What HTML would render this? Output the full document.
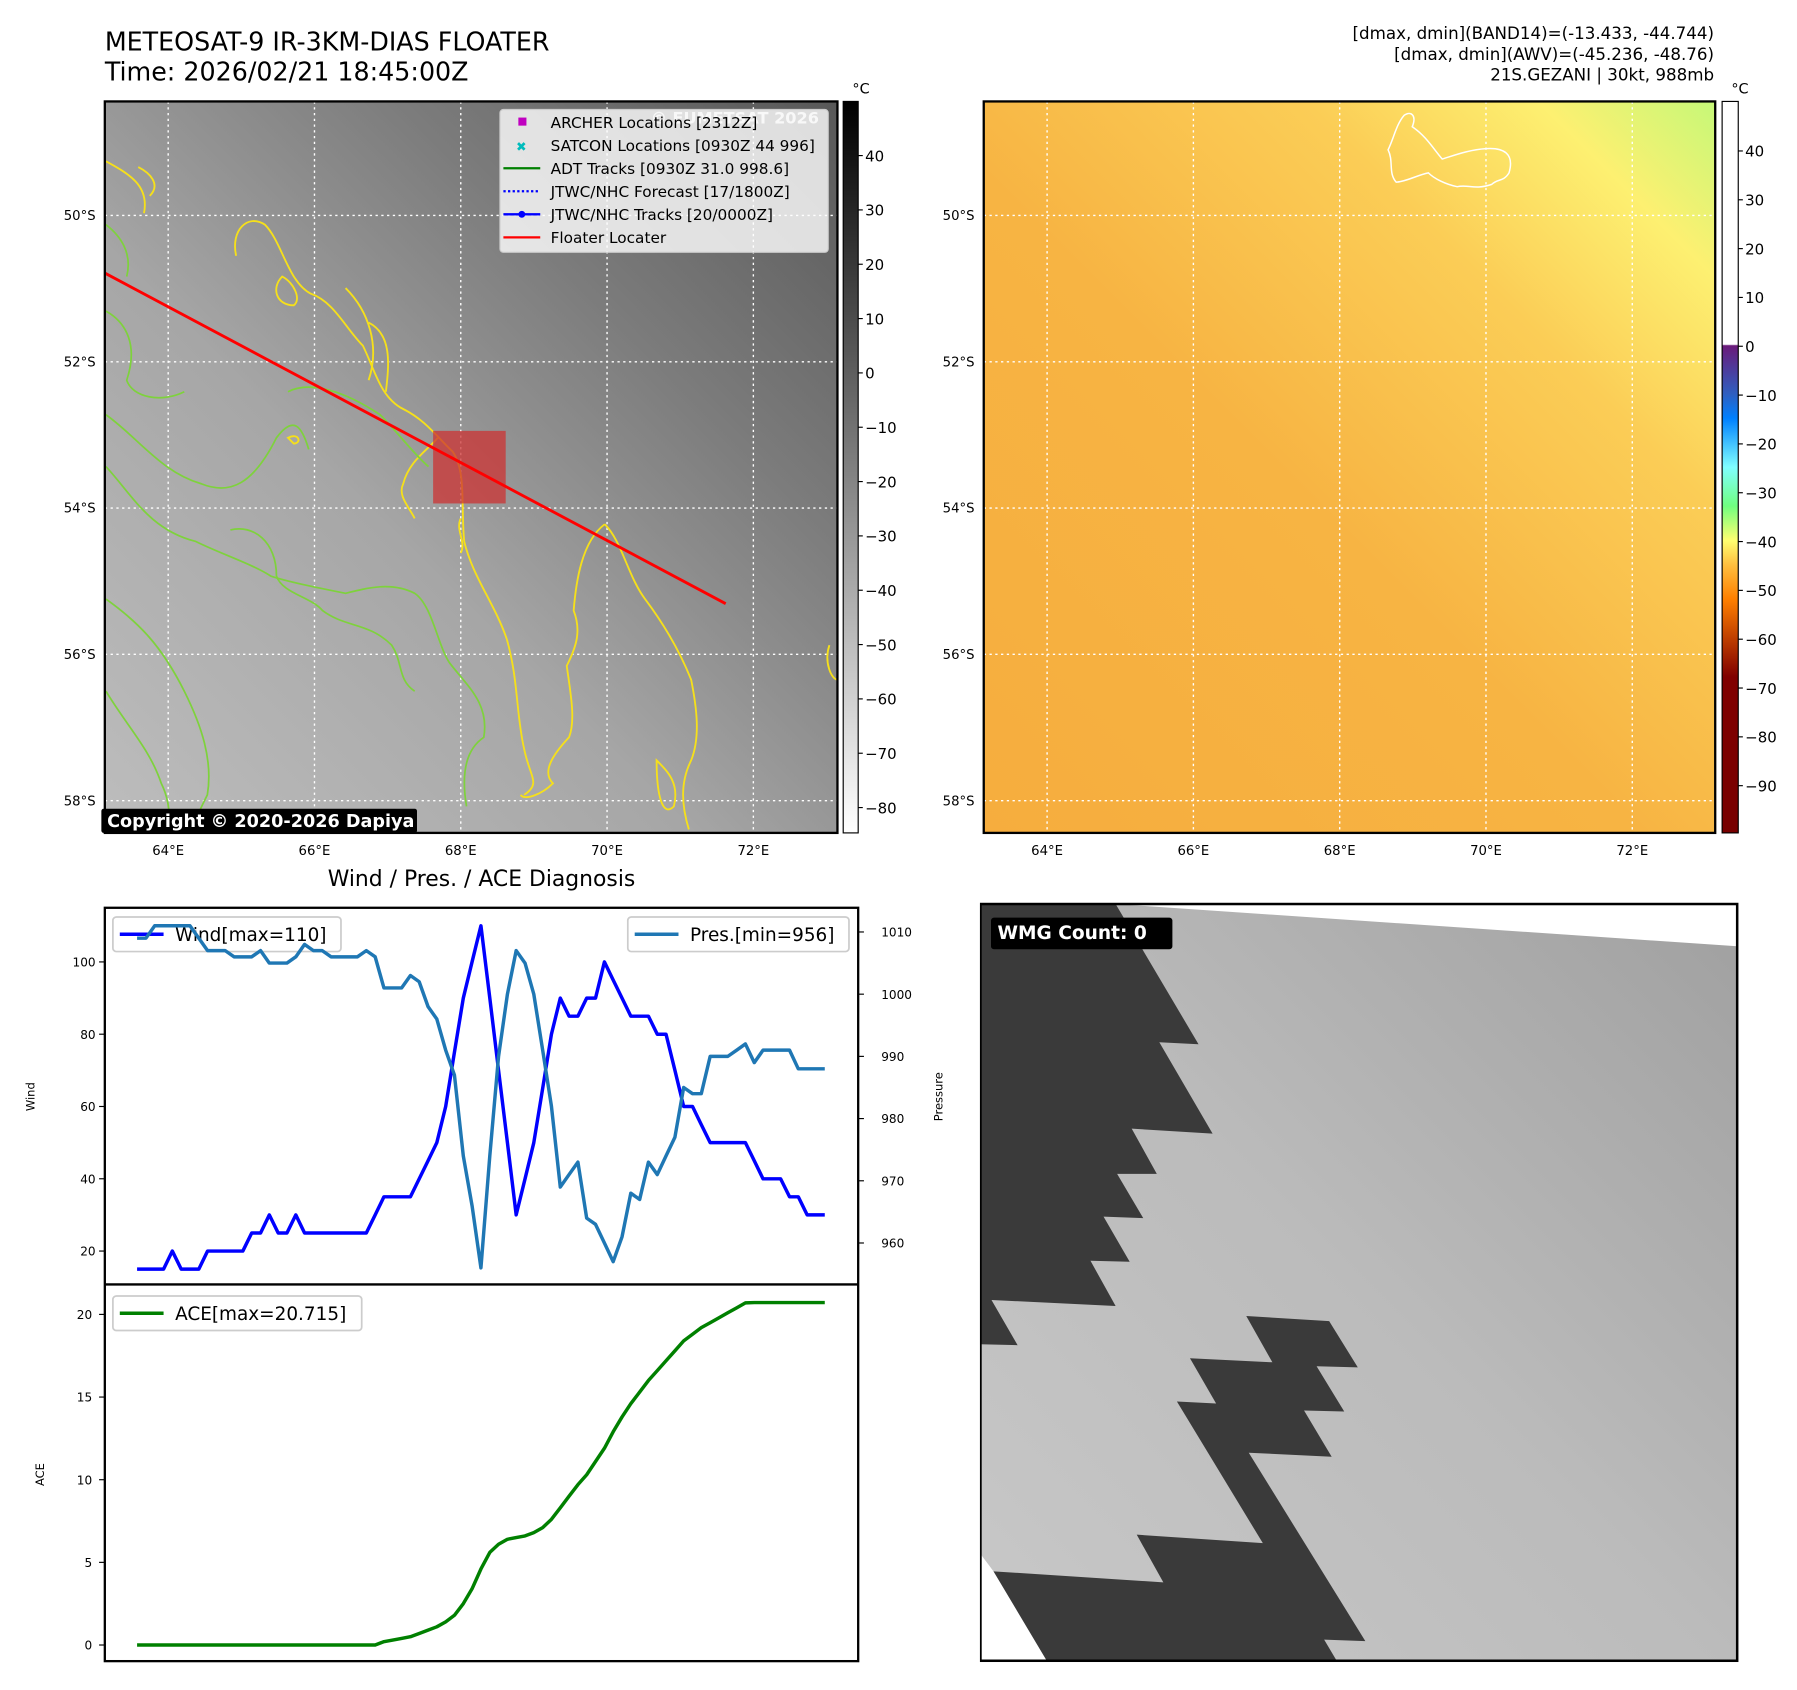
<!DOCTYPE html>
<html><head><meta charset="utf-8"><style>
html,body{margin:0;padding:0;background:#fff;}
svg{display:block;font-family:"DejaVu Sans","Liberation Sans",sans-serif;}
</style></head><body>
<svg id="root" width="1797" height="1690" viewBox="0 0 1560 1467" xmlns="http://www.w3.org/2000/svg">
<defs>
<linearGradient id="gIR" x1="0" y1="1" x2="1" y2="0">
<stop offset="0" stop-color="#bdbdbd"/><stop offset="0.4" stop-color="#a6a6a6"/><stop offset="0.7" stop-color="#7c7c7c"/><stop offset="1" stop-color="#585858"/></linearGradient>
<linearGradient id="gAWV" x1="0" y1="1" x2="1" y2="0">
<stop offset="0" stop-color="#f6ad3e"/><stop offset="0.45" stop-color="#f7b443"/><stop offset="0.72" stop-color="#fbcd56"/><stop offset="0.88" stop-color="#fdf071"/><stop offset="1" stop-color="#c6f878"/></linearGradient>
<linearGradient id="cbGray" x1="0" y1="0" x2="0" y2="1"><stop offset="0" stop-color="#000"/><stop offset="1" stop-color="#fff"/></linearGradient>
<linearGradient id="cbJet" x1="0" y1="0" x2="0" y2="1">
<stop offset="0" stop-color="#fff"/><stop offset="0.332" stop-color="#fff"/><stop offset="0.334" stop-color="#6a1a7a"/>
<stop offset="0.40" stop-color="#2f5fc0"/><stop offset="0.433" stop-color="#0080ff"/><stop offset="0.50" stop-color="#80ffff"/>
<stop offset="0.553" stop-color="#70ff80"/><stop offset="0.60" stop-color="#ffff70"/><stop offset="0.633" stop-color="#ffc040"/>
<stop offset="0.68" stop-color="#ff8000"/><stop offset="0.733" stop-color="#c04000"/><stop offset="0.787" stop-color="#800000"/><stop offset="1" stop-color="#780000"/></linearGradient>
<linearGradient id="gWMG" x1="0" y1="1" x2="1" y2="0"><stop offset="0" stop-color="#c8c8c8"/><stop offset="0.5" stop-color="#bbb"/><stop offset="1" stop-color="#a0a0a0"/></linearGradient>
<clipPath id="irClip"><rect x="91" y="88" width="636" height="635"/></clipPath>
</defs>

<text x="91" y="44" font-size="22">METEOSAT-9 IR-3KM-DIAS FLOATER</text>
<text x="91" y="70" font-size="22">Time: 2026/02/21 18:45:00Z</text>
<g font-size="14.5" text-anchor="end">
<text x="1488" y="34">[dmax, dmin](BAND14)=(-13.433, -44.744)</text>
<text x="1488" y="52">[dmax, dmin](AWV)=(-45.236, -48.76)</text>
<text x="1488" y="70">21S.GEZANI | 30kt, 988mb</text>
</g>

<!-- IR map -->
<g>
<rect x="91" y="88" width="636" height="635" fill="url(#gIR)"/>
<g fill="none" stroke="#fff" stroke-dasharray="2,3" stroke-width="1.2">
<line x1="146" y1="88" x2="146" y2="723"/><line x1="273" y1="88" x2="273" y2="723"/><line x1="400" y1="88" x2="400" y2="723"/><line x1="527" y1="88" x2="527" y2="723"/><line x1="654" y1="88" x2="654" y2="723"/>
<line x1="91" y1="187" x2="727" y2="187"/><line x1="91" y1="314" x2="727" y2="314"/><line x1="91" y1="441" x2="727" y2="441"/><line x1="91" y1="568" x2="727" y2="568"/><line x1="91" y1="695" x2="727" y2="695"/>
</g>
<g clip-path="url(#irClip)">
<g fill="none" stroke="#f6e01a" stroke-width="1.6">
<path d="M205,222 C200,200 215,185 230,195 C245,210 250,245 270,255 C290,262 300,285 315,300 C325,320 330,345 350,355 C370,365 380,380 393,392 C405,410 400,440 403,470 C410,500 430,525 440,555 C450,590 448,620 455,650 C460,675 470,680 455,690"/>
<path d="M300,250 C320,270 330,300 320,330 M335,340 C338,315 340,290 320,280"/>
<path d="M525,455 C540,470 545,500 560,520 C575,540 590,565 600,590 C605,615 608,640 600,660 C590,680 592,700 598,720"/>
<path d="M525,455 C505,470 500,505 498,530 C505,548 500,562 492,578 C495,600 500,625 494,640 C480,655 470,670 480,680 C470,690 455,695 452,690"/>
<path d="M380,380 C372,390 355,400 350,420 C345,430 355,440 360,450 M400,450 C395,460 405,470 400,480"/>
<path d="M92,140 C110,150 130,160 125,185 M120,145 C130,150 140,160 130,170"/>
<path d="M250,380 C260,375 262,385 255,385 Z"/><path d="M245,240 C255,245 262,260 255,265 C240,265 235,250 245,240 Z"/>
<path d="M720,560 C715,575 722,590 727,590"/>
<path d="M570,660 C580,670 590,680 585,700 C575,710 570,690 570,660 Z"/>
</g>
<g fill="none" stroke="#7ed23c" stroke-width="1.5">
<path d="M92,195 C105,205 115,220 110,240"/>
<path d="M92,360 C120,380 140,410 175,420 C200,430 220,420 240,380 C255,360 262,370 268,390"/>
<path d="M92,405 C115,430 130,460 170,470 C190,480 220,490 235,500 C250,505 275,510 300,515 C320,510 340,505 360,515 C375,525 380,560 390,575 C405,595 425,610 420,640 C405,650 400,670 405,700"/>
<path d="M200,460 C220,455 240,470 240,500 C245,515 270,518 280,530 C300,545 320,540 340,560 C350,575 345,590 360,600"/>
<path d="M92,520 C120,540 140,560 160,600 C175,630 185,660 180,690 C175,700 170,710 165,723"/>
<path d="M92,600 C110,630 130,650 140,680 C150,700 145,715 150,723"/>
<path d="M250,340 C270,330 300,340 330,360 C345,375 360,395 372,405"/>
<path d="M92,270 C110,280 120,300 110,330 C115,345 140,350 160,340"/>
</g>
<text x="565" y="107" font-size="14" font-weight="bold" fill="#ddd">© EUMETSAT 2026</text>
</g>
<g><rect x="376" y="374" width="63" height="63" fill="#cc3333" fill-opacity="0.75"/></g>
<line x1="91" y1="237" x2="630" y2="524" stroke="#ff0000" stroke-width="2.5"/>
<rect x="91" y="88" width="636" height="635" fill="none" stroke="#000" stroke-width="2"/>
</g>
<g>
<rect x="434" y="95" width="285" height="124" rx="3" fill="#fff" fill-opacity="0.8" stroke="#ccc"/>
<g font-size="13.3">
<rect x="450" y="102" width="7" height="7" fill="#c000c0"/><text x="478" y="111">ARCHER Locations [2312Z]</text>
<text x="448" y="131" fill="#00bcbc" font-size="11" font-weight="bold">✖</text><text x="478" y="131">SATCON Locations [0930Z 44 996]</text>
<line x1="437" y1="146" x2="469" y2="146" stroke="#008000" stroke-width="2"/><text x="478" y="151">ADT Tracks [0930Z 31.0 998.6]</text>
<line x1="437" y1="166" x2="469" y2="166" stroke="#0000ff" stroke-width="2" stroke-dasharray="2,2"/><text x="478" y="171">JTWC/NHC Forecast [17/1800Z]</text>
<line x1="437" y1="186" x2="469" y2="186" stroke="#0000ff" stroke-width="2"/><circle cx="453" cy="186" r="3" fill="#0000ff"/><text x="478" y="191">JTWC/NHC Tracks [20/0000Z]</text>
<line x1="437" y1="206" x2="469" y2="206" stroke="#ff0000" stroke-width="2"/><text x="478" y="211">Floater Locater</text>
</g></g>
<g>
<rect x="88" y="702" width="274" height="21" rx="2" fill="#000"/>
<text x="93" y="718" font-size="15.3" font-weight="bold" fill="#fff">Copyright © 2020-2026 Dapiya</text>
</g>
<g font-size="11.5">
<g text-anchor="end"><text x="83" y="191">50°S</text><text x="83" y="318">52°S</text><text x="83" y="445">54°S</text><text x="83" y="572">56°S</text><text x="83" y="699">58°S</text></g>
<g text-anchor="middle"><text x="146" y="742">64°E</text><text x="273" y="742">66°E</text><text x="400" y="742">68°E</text><text x="527" y="742">70°E</text><text x="654" y="742">72°E</text></g>
</g>
<g>
<rect x="732" y="88" width="13" height="635" fill="url(#cbGray)" stroke="#000" stroke-width="1"/>
<text x="740" y="81" font-size="12.5">°C</text>
<g id="cbL" font-size="13"></g>
</g>

<!-- AWV map -->
<g>
<rect x="854" y="88" width="635" height="635" fill="url(#gAWV)"/>
<g fill="none" stroke="#fff" stroke-dasharray="2,3" stroke-width="1.2">
<line x1="909" y1="88" x2="909" y2="723"/><line x1="1036" y1="88" x2="1036" y2="723"/><line x1="1163" y1="88" x2="1163" y2="723"/><line x1="1290" y1="88" x2="1290" y2="723"/><line x1="1417" y1="88" x2="1417" y2="723"/>
<line x1="854" y1="187" x2="1489" y2="187"/><line x1="854" y1="314" x2="1489" y2="314"/><line x1="854" y1="441" x2="1489" y2="441"/><line x1="854" y1="568" x2="1489" y2="568"/><line x1="854" y1="695" x2="1489" y2="695"/>
</g>
<path d="M1219,100 C1225,96 1230,100 1226,110 C1238,118 1245,130 1252,138 C1262,135 1275,130 1290,129 C1305,128 1315,133 1310,150 C1305,158 1300,155 1295,160 C1280,165 1275,160 1265,162 C1255,160 1245,155 1240,150 C1230,152 1220,158 1212,158 C1205,150 1210,140 1205,130 C1210,120 1212,108 1219,100 Z" fill="none" stroke="#fff" stroke-width="1.3"/>
<rect x="854" y="88" width="635" height="635" fill="none" stroke="#000" stroke-width="2"/>
</g>
<g font-size="11.5">
<g text-anchor="end"><text x="846" y="191">50°S</text><text x="846" y="318">52°S</text><text x="846" y="445">54°S</text><text x="846" y="572">56°S</text><text x="846" y="699">58°S</text></g>
<g text-anchor="middle"><text x="909" y="742">64°E</text><text x="1036" y="742">66°E</text><text x="1163" y="742">68°E</text><text x="1290" y="742">70°E</text><text x="1417" y="742">72°E</text></g>
</g>
<g>
<rect x="1495" y="88" width="14" height="635" fill="url(#cbJet)" stroke="#000" stroke-width="1"/>
<text x="1503" y="81" font-size="12.5">°C</text>
<g id="cbR" font-size="13"></g>
</g>

<!-- Diagnosis -->
<text x="418" y="769" font-size="19" text-anchor="middle">Wind / Pres. / ACE Diagnosis</text>
<g id="diag"></g>

<!-- WMG -->
<svg x="850.7" y="781.25" width="677" height="677" viewBox="0 0 1552 1552">
<rect x="0" y="8" width="1507" height="1506" fill="url(#gWMG)"/>
<polygon points="270,8 1507,8 1507,92" fill="#fff"/>
<polygon points="0,1300 30,1340 133,1514 0,1514" fill="#fff"/>
<polygon points="0,8 270,8 435,287 357,283 463,465 302,455 352,545 273,545 325,633 246,630 298,720 220,718 270,808 23,796 75,886 0,884" fill="#3a3a3a"/>
<polygon points="530,828 695,838 752,930 670,928 725,1018 645,1016 700,1108 535,1100 767,1475 685,1472 710,1514 133,1514 27,1336 365,1358 312,1263 563,1280 392,998 470,1002 418,912 582,920" fill="#3a3a3a"/>
<rect x="1" y="8" width="1506" height="1506" fill="none" stroke="#000" stroke-width="5"/>
<rect x="22" y="35" width="361" height="63" rx="6" fill="#000"/>
<text x="35" y="78" font-size="37" font-weight="bold" fill="#fff">WMG Count: 0</text>
</svg>
</svg>
<script>
const windVals=[15,15,15,15,20,15,15,15,20,20,20,20,20,25,25,30,25,25,30,25,25,25,25,25,25,25,25,30,35,35,35,35,40,45,50,60,75,90,100,110,90,70,50,30,40,50,65,80,90,85,85,90,90,100,95,90,85,85,85,80,80,70,60,60,55,50,50,50,50,50,45,40,40,40,35,35,30,30,30];
const presVals=[1009,1009,1011,1011,1011,1011,1011,1009,1007,1007,1007,1006,1006,1006,1007,1005,1005,1005,1006,1008,1007,1007,1006,1006,1006,1006,1007,1006,1001,1001,1001,1003,1002,998,996,991,987,974,966,956,974,990,1000,1007,1005,1000,991,982,969,971,973,964,963,960,957,961,968,967,973,971,974,977,985,984,984,990,990,990,991,992,989,991,991,991,991,988,988,988,988];
const aceVals=[0,0,0,0,0,0,0,0,0,0,0,0,0,0,0,0,0,0,0,0,0,0,0,0,0,0,0,0,0.2,0.3,0.4,0.5,0.7,0.9,1.1,1.4,1.8,2.5,3.4,4.6,5.6,6.1,6.4,6.5,6.6,6.8,7.1,7.6,8.3,9.0,9.7,10.3,11.1,11.9,12.9,13.8,14.6,15.3,16.0,16.6,17.2,17.8,18.4,18.8,19.2,19.5,19.8,20.1,20.4,20.7,20.715,20.715,20.715,20.715,20.715,20.715,20.715,20.715,20.715];
const windTicks=[20,40,60,80,100];
const presTicks=[960,970,980,990,1000,1010];
const aceTicks=[0,5,10,15,20];
const irCbTicks=[40,30,20,10,0,-10,-20,-30,-40,-50,-60,-70,-80];
const awvCbTicks=[40,30,20,10,0,-10,-20,-30,-40,-50,-60,-70,-80,-90];

const NS='http://www.w3.org/2000/svg';
function mk(tag,attrs,parent,txt){const e=document.createElementNS(NS,tag);for(const k in attrs)e.setAttribute(k,attrs[k]);if(txt!==undefined)e.textContent=txt;parent.appendChild(e);return e;}
const xS=i=>119+i*(716-119)/(windVals.length-1);
const yW=v=>835+(100-v)*(1086-835)/80;
const yP=v=>809+(1010-v)*(1079-809)/50;
const yA=v=>1428-v*(1428-1141)/20;
const yIR=v=>135+(40-v)*(701-135)/120;
const yAWV=v=>131+(40-v)*(682-131)/130;

const cbL=document.getElementById('cbL');
irCbTicks.forEach(v=>{const y=yIR(v);
mk('line',{x1:745,y1:y,x2:749,y2:y,stroke:'#000'},cbL);
const t=mk('text',{x:751,y:y+5},cbL,(v<0?'\u2212':'')+Math.abs(v));

});
const cbR=document.getElementById('cbR');
awvCbTicks.forEach(v=>{const y=yAWV(v);
mk('line',{x1:1509,y1:y,x2:1513,y2:y,stroke:'#000'},cbR);
const t=mk('text',{x:1515,y:y+5},cbR,(v<0?'\u2212':'')+Math.abs(v));

});

const d=document.getElementById('diag');
function legend(x,y,w,color,label,name){const g=mk('g',{},d);


mk('rect',{x:x,y:y,width:w,height:30,rx:3,fill:'#fff','fill-opacity':0.8,stroke:'#ccc','stroke-width':1.5},g);
mk('line',{x1:x+6,y1:y+15,x2:x+44,y2:y+15,stroke:color,'stroke-width':3},g);
mk('text',{x:x+54,y:y+21,'font-size':16},g,label);}
const pts=(arr,f)=>arr.map((v,i)=>xS(i).toFixed(1)+','+f(v).toFixed(1)).join(' ');
const wl=mk('polyline',{points:pts(windVals,yW),fill:'none',stroke:'#0000ff','stroke-width':3,'stroke-linejoin':'round'},d);


legend(98,796,198,'#0000ff','Wind[max=110]','wind-legend');
const pl=mk('polyline',{points:pts(presVals,yP),fill:'none',stroke:'#1f77b4','stroke-width':3,'stroke-linejoin':'round'},d);


legend(545,796,192,'#1f77b4','Pres.[min=956]','pressure-legend');
const al=mk('polyline',{points:pts(aceVals,yA),fill:'none',stroke:'#008000','stroke-width':3,'stroke-linejoin':'round'},d);


legend(98,1125,216,'#008000','ACE[max=20.715]','ace-legend');
mk('rect',{x:91,y:788,width:654,height:654,fill:'none',stroke:'#000','stroke-width':2},d);
mk('line',{x1:91,y1:1115,x2:745,y2:1115,stroke:'#000','stroke-width':2},d);
windTicks.forEach(v=>{const y=yW(v);mk('line',{x1:86,y1:y,x2:91,y2:y,stroke:'#000'},d);
const t=mk('text',{x:83,y:y+4,'font-size':10.5,'text-anchor':'end'},d,v);

});
presTicks.forEach(v=>{const y=yP(v);mk('line',{x1:745,y1:y,x2:750,y2:y,stroke:'#000'},d);
const t=mk('text',{x:765,y:y+4,'font-size':10.5},d,v);

});
aceTicks.forEach(v=>{const y=yA(v);mk('line',{x1:86,y1:y,x2:91,y2:y,stroke:'#000'},d);
const t=mk('text',{x:80,y:y+4,'font-size':10.5,'text-anchor':'end'},d,v);

});
const l1=mk('text',{x:30,y:952,'font-size':10,'text-anchor':'middle',transform:'rotate(-90 30 952)'},d,'Wind');


const l2=mk('text',{x:818,y:952,'font-size':10,'text-anchor':'middle',transform:'rotate(-90 818 952)'},d,'Pressure');


const l3=mk('text',{x:38,y:1280,'font-size':10,'text-anchor':'middle',transform:'rotate(-90 38 1280)'},d,'ACE');


</script>
</body></html>
